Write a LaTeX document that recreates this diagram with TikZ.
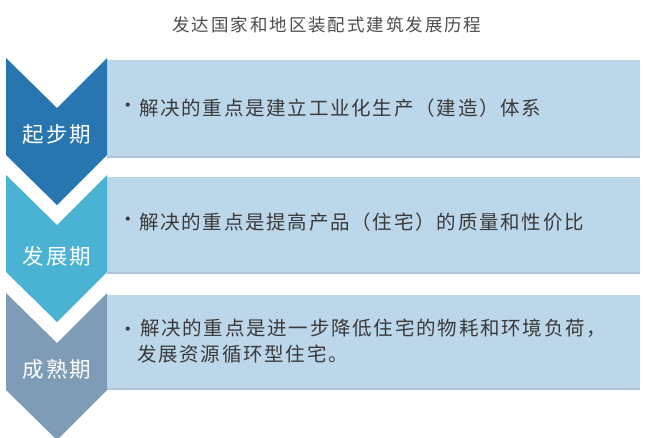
\documentclass[tikz,border=0pt]{standalone}
\usepackage{fontspec}
\newfontfamily\cjk{Noto Sans CJK SC}
\newfontfamily\cjktitle{Noto Sans CJK SC}[LetterSpace=11]
\newfontfamily\cjkbody{Noto Sans CJK SC}[LetterSpace=9]
\newfontfamily\cjklabel{Noto Sans CJK SC}[LetterSpace=10]
\definecolor{cA}{HTML}{2776B0}
\definecolor{cB}{HTML}{4AB2D2}
\definecolor{cC}{HTML}{7E9CB5}
\definecolor{boxc}{HTML}{BDD7EA}
\definecolor{boxedge}{HTML}{AEC6D8}
\definecolor{txt}{HTML}{3A3A3A}
\begin{document}
\begin{tikzpicture}[x=1pt,y=-1pt,
  stagebox/.style={fill=boxc,draw=none},
  stagelabel/.style={text=white,font=\cjklabel\fontsize{21.5}{24}\selectfont,inner sep=0pt},
  bodytext/.style={text=txt,font=\cjkbody\fontsize{19.5}{26}\selectfont,inner sep=0pt,anchor=west,align=left},
  bul/.style={text=txt,font=\cjk\fontsize{19.5}{26}\selectfont,inner sep=0pt}]
\useasboundingbox (0,0) rectangle (646,437);
\fill[white] (0,0) rectangle (646,437);
\node[text=txt!90,font=\cjktitle\fontsize{17.5}{20}\selectfont,inner sep=0pt] (title) at (327,25) {发达国家和地区装配式建筑发展历程};
% boxes
\fill[stagebox] (107,60) rectangle (640,158);
\fill[boxedge] (107,156) rectangle (640,158);
\fill[stagebox] (107,177) rectangle (640,274);
\fill[boxedge] (107,272) rectangle (640,274);
\fill[stagebox] (107,295) rectangle (640,390);
\fill[boxedge] (107,388) rectangle (640,390);
% chevrons
\begin{scope}
\clip (0,0) rectangle (646,437);
\fill[cA] (6,58) -- (57,108) -- (107,58) -- (107,155) -- (57,205) -- (6,155) -- cycle;
\fill[cB] (6,175) -- (57,225) -- (107,175) -- (107,272) -- (57,322) -- (6,272) -- cycle;
\fill[cC] (6,293) -- (57,343) -- (107,293) -- (107,390) -- (57,440) -- (6,390) -- cycle;
\end{scope}
\node[stagelabel] (s1) at (57,134) {起步期};
\node[stagelabel] (s2) at (57,256) {发展期};
\node[stagelabel] (s3) at (57,369) {成熟期};
% texts
\node[bul] (b1) at (128,108) {·};
\node[bodytext] (t1) at (139,108) {解决的重点是建立工业化生产（建造）体系};
\node[bul] (b2) at (128,222) {·};
\node[bodytext] (t2) at (139,222) {解决的重点是提高产品（住宅）的质量和性价比};
\node[bul] (b3) at (128,332) {·};
\node[bodytext,anchor=north west] (t3) at (137,319) {\hspace{3pt}解决的重点是进一步降低住宅的物耗和环境负荷，\\发展资源循环型住宅。};
\end{tikzpicture}
\end{document}
